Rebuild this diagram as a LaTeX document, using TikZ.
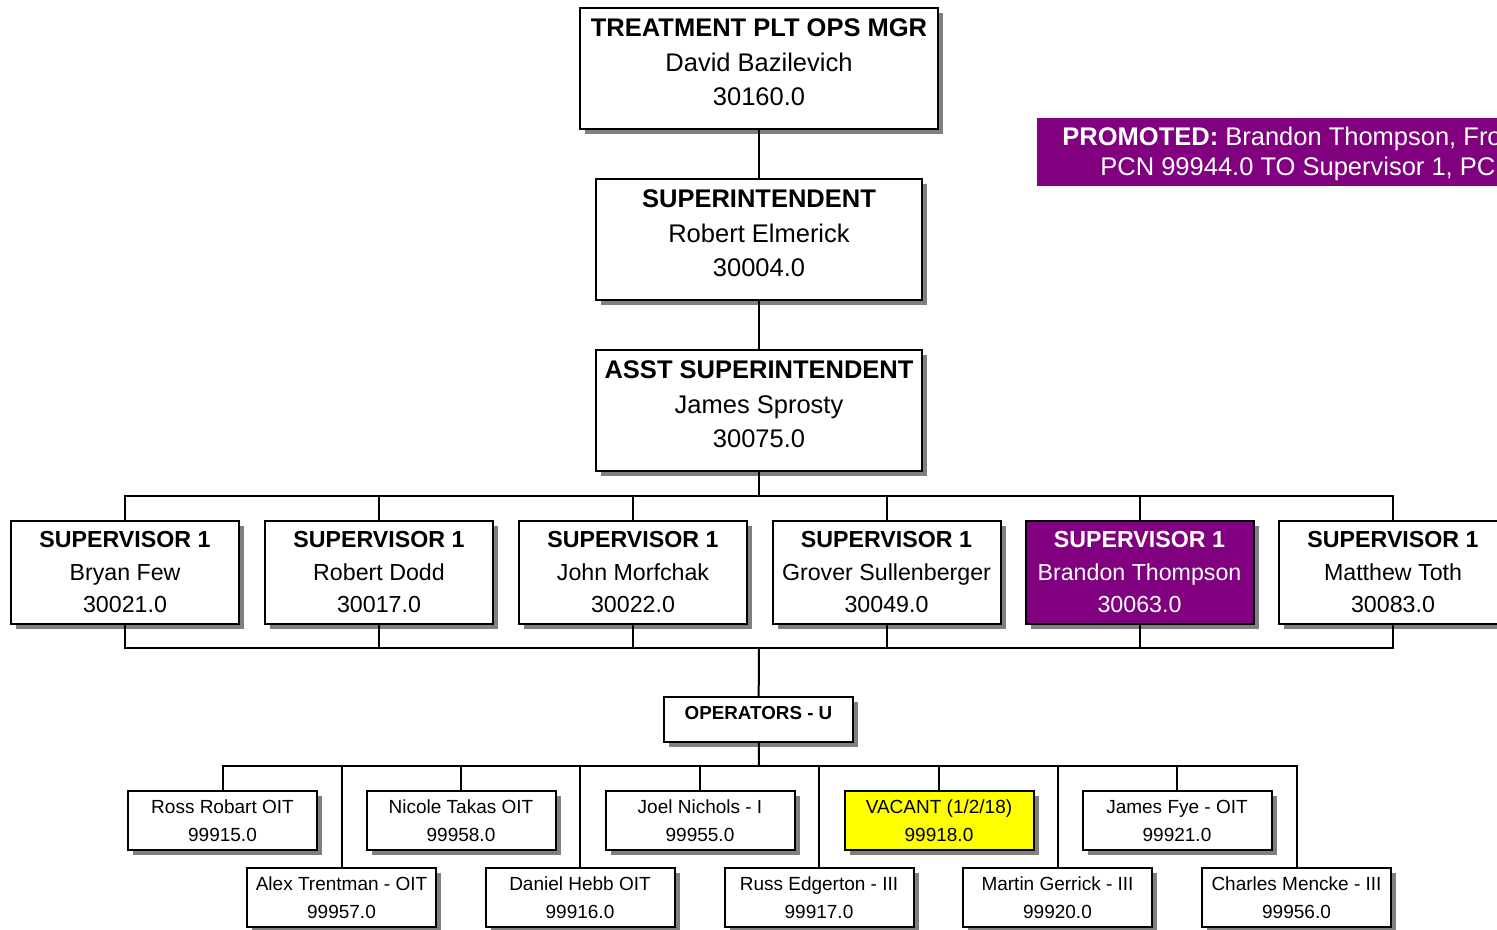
\documentclass[tikz,border=0pt]{standalone}
\usepackage{fontspec}
\setmainfont{Liberation Sans}
\usetikzlibrary{shadows}
\definecolor{promopurple}{RGB}{128, 0, 128}
\definecolor{vacantyellow}{RGB}{255, 255, 0}
\definecolor{shadowgray}{RGB}{128, 128, 128}
\newcommand{\lowstrut}{\rule[-6pt]{0pt}{6pt}}

\begin{document}
\begin{tikzpicture}[
  x=0.5pt, y=-0.5pt,
  chartbox/.style={draw, line width=1pt, fill=white, inner sep=0pt, drop shadow={shadow xshift=2.5pt, shadow yshift=-2.5pt, fill=shadowgray, opacity=1}},
  headbox/.style={chartbox, align=center, minimum width=163pt, minimum height=60.5pt, font=\fontsize{12.75}{17.25}\selectfont},
  supbox/.style={chartbox, align=center, minimum width=114pt, minimum height=51.5pt, font=\fontsize{11.6}{16.25}\selectfont},
  opbox/.style={chartbox, align=center, minimum width=94.5pt, minimum height=29.8pt, font=\fontsize{9.5}{14}\selectfont},
  link/.style={line width=1pt}
]
  \useasboundingbox (0, 0) rectangle (1497, 930);

  % Management
  \node[headbox, minimum width=179pt] (mgr) at (759, 68.5) {\textbf{TREATMENT PLT OPS MGR}\\David Bazilevich\\30160.0\lowstrut};
  \node[headbox] (supt) at (759, 239.5) {\textbf{SUPERINTENDENT}\\Robert Elmerick\\30004.0\lowstrut};
  \node[headbox] (asst) at (759, 410.5) {\textbf{ASST SUPERINTENDENT}\\James Sprosty\\30075.0\lowstrut};

  % Promotion note
  \node[fill=promopurple, inner sep=0pt, minimum width=240pt, minimum height=34pt, anchor=north west] (promo) at (1037, 117.5) {};
  \node[anchor=base west, inner sep=0pt, text=white, font=\fontsize{12.75}{15}\selectfont] (promoline1) at (1062, 146) {\textbf{PROMOTED:} Brandon Thompson, Fro};
  \node[anchor=base west, inner sep=0pt, text=white, font=\fontsize{12.75}{15}\selectfont] (promoline2) at (1100, 176) {PCN 99944.0 TO Supervisor 1, PCN};

  % Supervisors
  \node[supbox] (few) at (125, 572.5) {\textbf{SUPERVISOR 1}\\Bryan Few\\30021.0};
  \node[supbox] (dodd) at (379, 572.5) {\textbf{SUPERVISOR 1}\\Robert Dodd\\30017.0};
  \node[supbox] (morfchak) at (633, 572.5) {\textbf{SUPERVISOR 1}\\John Morfchak\\30022.0};
  \node[supbox] (sullenberger) at (886.5, 572.5) {\textbf{SUPERVISOR 1}\\Grover Sullenberger\\30049.0};
  \node[supbox, fill=promopurple, text=white] (thompson) at (1139.5, 572.5) {\textbf{SUPERVISOR 1}\\Brandon Thompson\\30063.0};
  \node[supbox] (toth) at (1393, 572.5) {\textbf{SUPERVISOR 1}\\Matthew Toth\\30083.0};

  % Operators
  \node[chartbox, minimum width=94.5pt, text height=11.35pt, text depth=11.15pt, font=\fontsize{9.4}{12}\selectfont\bfseries] (ops) at (758.5, 719.5) {OPERATORS - U};

  \node[opbox] (robart) at (222.5, 820.5) {Ross Robart OIT\\99915.0};
  \node[opbox] (takas) at (461, 820.5) {Nicole Takas OIT\\99958.0};
  \node[opbox] (nichols) at (700, 820.5) {Joel Nichols - I\\99955.0};
  \node[opbox, fill=vacantyellow] (vacant) at (939, 820.5) {VACANT (1/2/18)\\99918.0};
  \node[opbox] (fye) at (1177, 820.5) {James Fye - OIT\\99921.0};
  \node[opbox] (trentman) at (341.5, 897.5) {Alex Trentman - OIT\\99957.0};
  \node[opbox] (hebb) at (580, 897.5) {Daniel Hebb OIT\\99916.0};
  \node[opbox] (edgerton) at (819, 897.5) {Russ Edgerton - III\\99917.0};
  \node[opbox] (gerrick) at (1057.5, 897.5) {Martin Gerrick - III\\99920.0};
  \node[opbox] (mencke) at (1296.5, 897.5) {Charles Mencke - III\\99956.0};

  % Lines
  \draw[link] (mgr) -- (supt);
  \draw[link] (supt) -- (asst);

  \coordinate (suptop) at (759, 496);
  \draw[link] (asst) -- (suptop);
  \foreach \s in {few, dodd, morfchak, sullenberger, thompson, toth}
    \draw[link] (suptop) -| (\s.north);

  \coordinate (supbot) at (759, 648);
  \foreach \s in {few, dodd, morfchak, sullenberger, thompson, toth}
    \draw[link] (\s.south) |- (supbot);
  \draw[link] (supbot) -- (ops);

  \coordinate (opbus) at (759, 766);
  \draw[link] (ops) -- (opbus);
  \foreach \o in {robart, takas, nichols, vacant, fye, trentman, hebb, edgerton, gerrick, mencke}
    \draw[link] (opbus) -| (\o.north);
\end{tikzpicture}
\end{document}
